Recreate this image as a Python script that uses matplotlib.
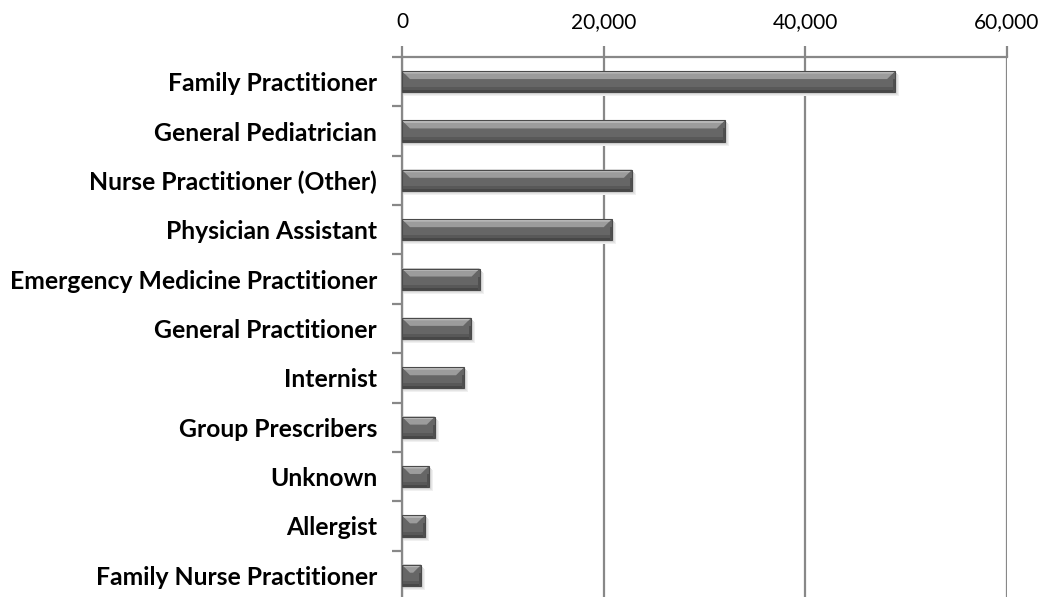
import matplotlib.pyplot as plt
from matplotlib.patches import Polygon, Rectangle
from matplotlib.ticker import FuncFormatter, FixedLocator

categories = [
    "Family Practitioner",
    "General Pediatrician",
    "Nurse Practitioner (Other)",
    "Physician Assistant",
    "Emergency Medicine Practitioner",
    "General Practitioner",
    "Internist",
    "Group Prescribers",
    "Unknown",
    "Allergist",
    "Family Nurse Practitioner",
]
values = [48900, 32000, 22800, 20800, 7700, 6850, 6150, 3250, 2650, 2250, 1900]
x_ticks = [0, 20000, 40000, 60000]

plt.rcParams['font.family'] = ['Lato', 'DejaVu Sans']

fig = plt.figure(figsize=(10.48, 5.97), dpi=100)
ax = fig.add_axes([402 / 1048, -3 / 597, 605 / 1048, 543 / 597])

n = len(categories)
ys = list(range(n))
h = 0.43
ax.set_ylim(n - 0.5, -0.5)
ax.set_xlim(0, 60000)

# data units per pixel, for the bevel and shadow sizes
xr = 60000 / 605.0
yr = 11 / 543.0

for y, v in zip(ys, values):
    top = y - h / 2
    bot = y + h / 2
    # soft shadow
    for k, c in [(4, '#f0f0f0'), (3, '#e4e4e4'), (2, '#d6d6d6')]:
        ax.add_patch(Rectangle((0, top + k * yr), v + k * xr, h, color=c, zorder=2, lw=0))
    # base face
    ax.add_patch(Rectangle((0, top), v, h, facecolor='#666666', lw=0, zorder=3))
    b = min(8 * xr, v / 2.4)
    # top bevel (light band with diagonal ends)
    by = 8 * yr
    ax.add_patch(Polygon([(0, top), (v, top), (v - b, top + by), (b, top + by)],
                         closed=True, facecolor='#9c9c9c', lw=0, zorder=4))
    ax.add_patch(Polygon([(0, top), (v, top), (v - b * 0.3, top + by * 0.3), (b * 0.3, top + by * 0.3)],
                         closed=True, facecolor='#bdbdbd', lw=0, zorder=4))
    # lower part darker
    ax.add_patch(Rectangle((0, bot - 5 * yr), v, 5 * yr, facecolor='#585858', lw=0, zorder=4))
    ax.add_patch(Rectangle((0, bot - 2 * yr), v, 2 * yr, facecolor='#474747', lw=0, zorder=4))
    # right edge
    ax.add_patch(Rectangle((v - 2 * xr, top + by), 2 * xr, h - by, facecolor='#505050', lw=0, zorder=4))
    ax.add_patch(Rectangle((0, top), v, h, facecolor='none', edgecolor='#4a4a4a', lw=0.8, zorder=5))

ax.xaxis.set_major_locator(FixedLocator(x_ticks))
ax.xaxis.set_major_formatter(FuncFormatter(lambda x, p: f"{int(x):,}"))
ax.xaxis.tick_top()
ax.grid(axis='x', color='#888888', lw=1.6, zorder=1)
ax.tick_params(axis='x', length=8, width=1.6, color='#888888', labelsize=15, pad=10)

ax.set_yticks(ys)
ax.set_yticklabels(categories, fontweight='bold', fontsize=17.8)
ax.set_yticks([i + 0.5 for i in range(-1, n)], minor=True)
ax.tick_params(axis='y', which='major', length=0, pad=18)
ax.tick_params(axis='y', which='minor', length=7, width=1.6, color='#888888')

for s in ['right', 'bottom']:
    ax.spines[s].set_visible(False)
ax.spines['left'].set_color('#888888')
ax.spines['left'].set_linewidth(1.6)
ax.spines['top'].set_color('#888888')
ax.spines['top'].set_linewidth(1.6)

fig.savefig('out.png', dpi=100)
